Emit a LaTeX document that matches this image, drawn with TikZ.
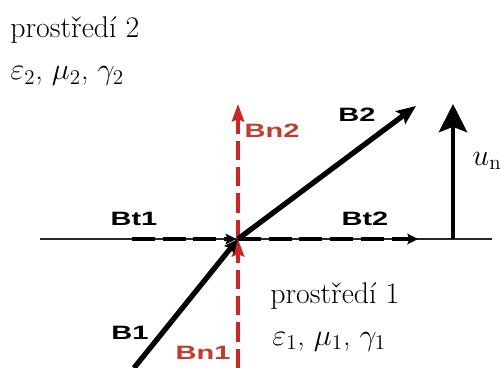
\documentclass[tikz,border=0pt]{standalone}
\usepackage{fontspec}
\newfontfamily\labelfont{Liberation Sans}
\usetikzlibrary{arrows.meta}
\definecolor{vred}{RGB}{210,35,35}
\definecolor{lred}{RGB}{195,60,45}
\definecolor{axisgray}{RGB}{40,40,40}
\begin{document}
\begin{tikzpicture}[x=0.02cm,y=-0.02cm,
  lbl/.style={font=\labelfont\bfseries\fontsize{11}{12}\selectfont, inner sep=0pt},
  serif/.style={font=\fontsize{17}{19}\selectfont, inner sep=0pt, anchor=base west},
  bigvec/.style={line width=3pt, -{Stealth[length=11pt,width=9pt,inset=2pt]}},
  tvec/.style={line width=2.8pt, dash pattern=on 13pt off 4.5pt, -{Stealth[length=6pt,width=6pt,inset=1pt]}},
  nvec/.style={vred, line width=2pt, dash pattern=on 11pt off 4pt, -{Stealth[length=10pt,width=7pt,inset=1.5pt]}},
  unvec/.style={line width=2.8pt, -{Stealth[length=16pt,width=16pt,inset=3pt]}}
]
\useasboundingbox (0,0) rectangle (500,368);
% coordinates
\coordinate (O) at (238,239);
\coordinate (axL) at (40,239);
\coordinate (axR) at (492,239);
\coordinate (B1s) at (134,368);
\coordinate (B2e) at (416,106);
\coordinate (Bt1s) at (132,239);
\coordinate (Bt2e) at (418,239);
\coordinate (Bn1s) at (238,368);
\coordinate (Bn2e) at (238,104);
\coordinate (uns) at (453,239);
\coordinate (une) at (453,104);
% axis
\draw[axisgray, line width=1.1pt] (axL) -- (axR);
% tangential components
\draw[tvec] (Bt1s) -- ([xshift=-1pt]O);
\draw[tvec] (O) -- (Bt2e);
% normal components
\draw[nvec] (Bn1s) -- (O);
\draw[nvec] (O) -- (Bn2e);
% B vectors
\draw[line width=3pt, -{Stealth[length=8pt,width=7pt,inset=1.5pt]}] (B1s) -- (O);
\draw[bigvec] (O) -- (B2e);
% u_n
\draw[unvec] (uns) -- (une);
% labels
\node[lbl] (lBt1) at (134,219) {\scalebox{1.5}[1]{Bt1}};
\node[lbl] (lBt2) at (365,219) {\scalebox{1.5}[1]{Bt2}};
\node[lbl] (lB2) at (357,115) {\scalebox{1.5}[1]{B2}};
\node[lbl] (lB1) at (130,333) {\scalebox{1.5}[1]{B1}};
\node[lbl, text=lred] (lBn2) at (272,131) {\scalebox{1.5}[1]{Bn2}};
\node[lbl, text=lred] (lBn1) at (203,353) {\scalebox{1.5}[1]{Bn1}};
\node[serif] (p2) at (10,38) {prostředí 2};
\node[serif] (m2) at (10,80) {$\varepsilon_2$, $\mu_2$, $\gamma_2$};
\node[serif] (p1) at (270,303) {prostředí 1};
\node[serif] (m1) at (272,345) {$\varepsilon_1$, $\mu_1$, $\gamma_1$};
\node[serif] (un) at (472,165) {$u_{\mathrm{n}}$};
\end{tikzpicture}
\end{document}
